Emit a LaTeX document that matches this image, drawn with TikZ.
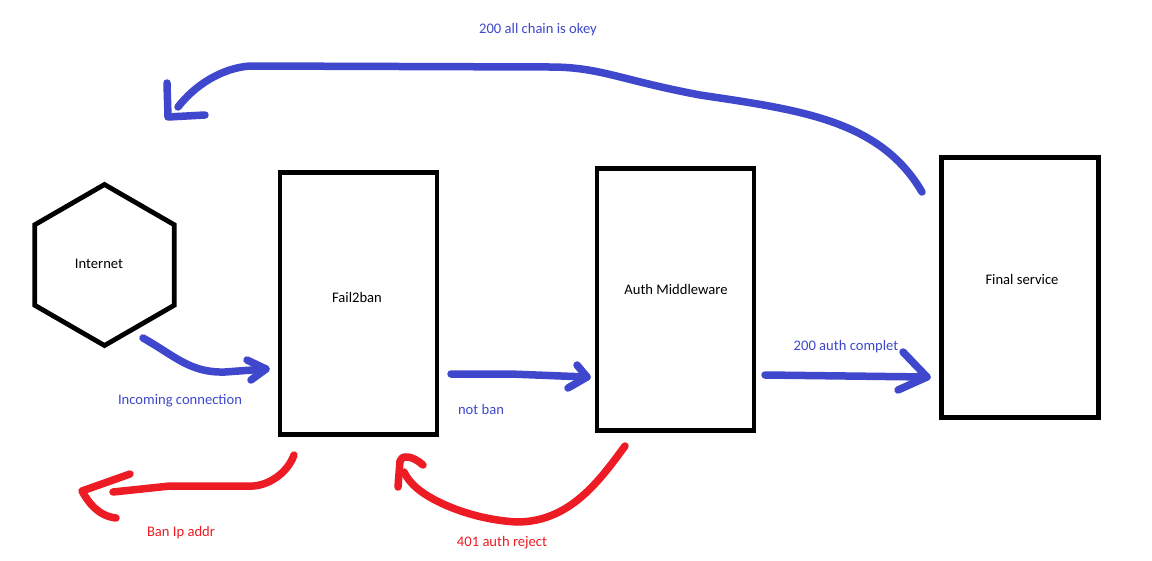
\documentclass[tikz,border=0pt]{standalone}
\usepackage{fontspec}
\setmainfont{Carlito}
\usetikzlibrary{shapes.geometric}
\definecolor{pblue}{RGB}{63,72,204}
\definecolor{pred}{RGB}{237,28,36}
\tikzset{
  box/.style={draw=black, line width=4.8pt, rectangle, inner sep=0pt, minimum width=157pt},
  hexa/.style={draw=black, line width=4.8pt, regular polygon, regular polygon sides=6,
               shape border rotate=30, minimum size=161pt, inner sep=0pt},
  txt/.style={font=\fontsize{14.6}{17}\selectfont, inner sep=0pt, text=black},
  btxt/.style={txt, text=pblue},
  rtxt/.style={txt, text=pred},
  bstroke/.style={draw=pblue, line width=7.5pt, line cap=round, line join=round},
  rstroke/.style={draw=pred, line width=7.5pt, line cap=round, line join=round},
}
\begin{document}
\begin{tikzpicture}[x=1pt,y=-1pt]
\useasboundingbox[fill=white] (0,0) rectangle (1152,560);

% shapes
\node[hexa] (inet) at (104.5,265) {};
\node[txt] (inettxt) at (99,264) {Internet};
\node[box, minimum height=262pt] (f2b) at (358.5,303.5) {};
\node[txt] (f2btxt) at (357,297) {Fail2ban};
\node[box, minimum height=262pt] (auth) at (675.5,299.5) {};
\node[txt] (authtxt) at (676,289) {Auth Middleware};
\node[box, minimum height=260pt] (final) at (1020,287.5) {};
\node[txt] (finaltxt) at (1022,279) {Final service};

% coordinates of hand-drawn strokes
\coordinate (a1s) at (143,338);
\coordinate (a1t) at (266,369);
\coordinate (a2s) at (451,374);
\coordinate (a2t) at (587,377);
\coordinate (a3s) at (765,375);
\coordinate (a3t) at (927,377);
\coordinate (a4s) at (922,192);
\coordinate (a4e) at (178,107);
\coordinate (a4t) at (168,117);
\coordinate (r1s) at (294,455);
\coordinate (r1e) at (113,492);
\coordinate (r1t) at (82,491);
\coordinate (r2s) at (625,446);
\coordinate (r2e) at (404,472);
\coordinate (r2t) at (400,461);

% Internet -> Fail2ban
\draw[bstroke] (a1s) .. controls (175,356) and (190,373) .. (225,372) -- (a1t);
\draw[bstroke] (247,360) -- (a1t) -- (251,380);
\node[btxt] (lincoming) at (180,401) {Incoming connection};

% Fail2ban -> Auth
\draw[bstroke] (a2s) -- (510,374) -- (a2t);
\draw[bstroke] (577,365) -- (a2t) -- (568,388);
\node[btxt] (lnotban) at (481,409) {not ban};

% Auth -> Final
\draw[bstroke] (a3s) -- (a3t);
\draw[bstroke] (903,352) -- (a3t) -- (898,390);
\node[btxt] (lcomplet) at (846,347) {200 auth complet};

% Final -> back
\draw[bstroke] (a4s) .. controls (880,120) and (800,110) .. (700,95)
  .. controls (620,80) and (600,67) .. (550,67) -- (250,66)
  .. controls (222,68) and (195,85) .. (a4e);
\draw[bstroke] (167,83) -- (a4t) -- (205,115);
\node[btxt] (lchain) at (538,30) {200 all chain is okey};

% Ban
\draw[rstroke] (r1s) .. controls (288,472) and (270,485) .. (253,486) -- (170,486) -- (r1e);
\draw[rstroke] (130,474) -- (r1t) .. controls (88,502) and (98,516) .. (116,518);
\node[rtxt] (lban) at (181,533) {Ban Ip addr};

% 401 reject
\draw[rstroke] (r2s) .. controls (600,480) and (570,522) .. (517,522)
  .. controls (480,520) and (450,508) .. (435,500)
  .. controls (420,492) and (410,484) .. (r2e);
\draw[rstroke] (398,487) -- (r2t) .. controls (401,455) and (412,455) .. (423,465);
\node[rtxt] (lreject) at (502,543) {401 auth reject};
\end{tikzpicture}
\end{document}
